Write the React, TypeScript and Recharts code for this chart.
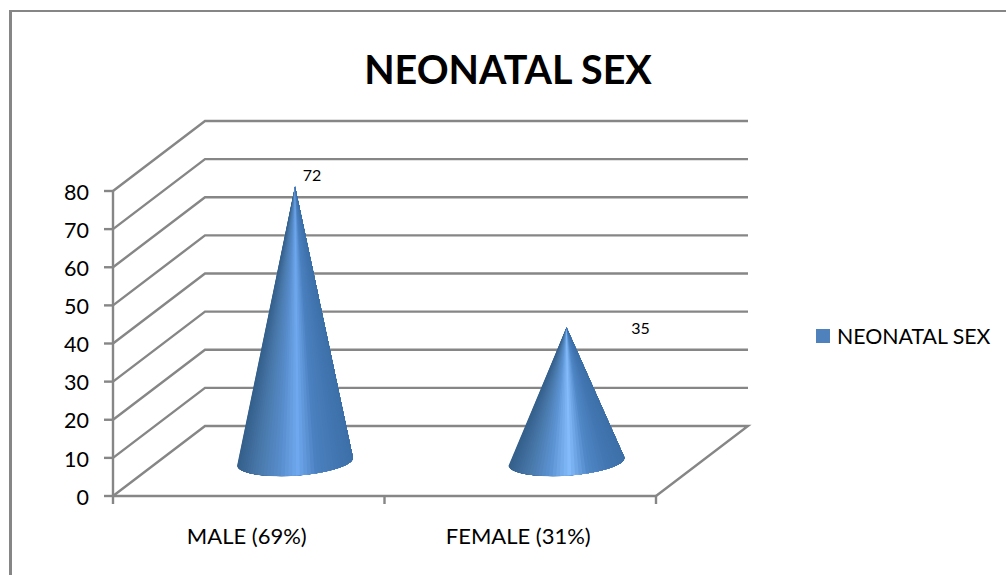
import { Bar, BarChart, CartesianGrid, LabelList, Legend, XAxis, YAxis } from "recharts";

const categories = ["MALE (69%)", "FEMALE (31%)"];
const seriesName = "NEONATAL SEX";
const seriesValues = [72, 35];
const yTicks = [0, 10, 20, 30, 40, 50, 60, 70, 80];

const chartData = categories.map((name, i) => ({ name, value: seriesValues[i] }));

const WIDTH = 1006;
const HEIGHT = 575;
const AXIS_W = 113;
const AXIS_H = 79;
const MARGIN = { top: 191, left: 0, right: 350, bottom: 0 };
const BAND = (WIDTH - AXIS_W - MARGIN.right) / categories.length;

// how far the back wall sits from the front plane
const DEPTH_X = 92;
const DEPTH_Y = 70;

const AXIS_COLOR = "#868686";
const LINE_W = 2.4;
const FONT = "Lato, Carlito, sans-serif";

const SHADES = [
  ["#3d70a8", "#4377b3", "#4b80bf", "#6fa8ee", "#578ccb", "#4a7aac", "#35608c"],
  ["#3d70a8", "#4377b3", "#4f86c5", "#84bcfb", "#5c93d2", "#4a7aac", "#35608c"],
];

function hexToRgb(hex: string) {
  return [1, 3, 5].map((p) => parseInt(hex.slice(p, p + 2), 16));
}

function shadeAt(stops: string[], t: number) {
  const pos = Math.min(Math.max(t, 0), 0.9999) * (stops.length - 1);
  const i = Math.floor(pos);
  const a = hexToRgb(stops[i]);
  const b = hexToRgb(stops[i + 1]);
  const c = a.map((v, k) => Math.round(v + (b[k] - v) * (pos - i)));
  return `rgb(${c[0]},${c[1]},${c[2]})`;
}

// cone standing halfway into the depth of the plot; painted left to right,
// each slice reaching the right rim so no seams show between them
function ConeShape({ x, y, width, height, index }: any) {
  const cx = x + width / 2 + DEPTH_X / 2;
  const cy = y + height - DEPTH_Y / 2 + 0.5;
  const apexY = y - DEPTH_Y / 2;
  const a = 58;
  const b = 14;
  const tiltDeg = -4;
  const tilt = (tiltDeg * Math.PI) / 180;
  const slices = 48;

  const rim = (t: number) => {
    const ex = a * Math.cos(t);
    const ey = b * Math.sin(t);
    return [cx + ex * Math.cos(tilt) - ey * Math.sin(tilt), cy + ex * Math.sin(tilt) + ey * Math.cos(tilt)];
  };

  const end = rim(0);
  const parts = [];
  for (let i = 0; i < slices; i++) {
    const t0 = Math.PI - (Math.PI * i) / slices;
    const p0 = rim(t0);
    parts.push(
      <path
        key={i}
        d={`M${cx},${apexY}L${p0[0]},${p0[1]}A${a},${b} ${tiltDeg} 0 0 ${end[0]},${end[1]}Z`}
        fill={shadeAt(SHADES[index], (1 - Math.cos(t0)) / 2)}
      />
    );
  }
  return <g>{parts}</g>;
}

// each grid line runs up the side wall and then along the back wall
function WallLine({ x1, x2, y1 }: any) {
  const isFloor = Math.abs(y1 - (HEIGHT - AXIS_H)) < 1;
  const backY = y1 - DEPTH_Y;
  const points = [`${x1},${y1}`, `${x1 + DEPTH_X},${backY}`, `${x2 + DEPTH_X},${backY}`];
  if (isFloor) points.push(`${x2},${y1}`);
  return <polyline points={points.join(" ")} fill="none" stroke={AXIS_COLOR} strokeWidth={LINE_W} />;
}

function CategoryTick({ x, y, payload, index }: any) {
  const left = x - BAND / 2;
  return (
    <g>
      <line x1={left} x2={left} y1={y} y2={y + 8} stroke={AXIS_COLOR} strokeWidth={LINE_W} />
      {index === categories.length - 1 && (
        <line x1={left + BAND} x2={left + BAND} y1={y} y2={y + 8} stroke={AXIS_COLOR} strokeWidth={LINE_W} />
      )}
      <text x={x - 2} y={y + 48} textAnchor="middle" fontFamily={FONT} fontSize={22} fill="#000">
        {payload.value}
      </text>
    </g>
  );
}

function ValueLabel({ x, y, width, value, index }: any) {
  const shift = index === 0 ? { dx: 63, dy: -6 } : { dx: 120, dy: 6 };
  return (
    <text
      x={x + width / 2 + shift.dx}
      y={y - DEPTH_Y / 2 + shift.dy}
      textAnchor="middle"
      fontFamily={FONT}
      fontSize={16}
      fill="#000"
    >
      {value}
    </text>
  );
}

function LegendRow({ payload }: any) {
  return (
    <div style={{ display: "flex", alignItems: "center" }}>
      {(payload ?? []).map((item: any) => (
        <span key={item.value} style={{ display: "flex", alignItems: "center", gap: 7 }}>
          <span style={{ width: 14, height: 14, background: item.color }} />
          <span style={{ color: "#000", fontFamily: FONT, fontSize: 21.3, lineHeight: "24px" }}>{item.value}</span>
        </span>
      ))}
    </div>
  );
}

export default function App() {
  return (
    <div style={{ position: "absolute", left: 0, top: 0, width: WIDTH, height: HEIGHT, overflow: "hidden", background: "#fff" }}>
      <div
        style={{
          position: "absolute",
          left: 9,
          top: 10,
          width: WIDTH,
          height: HEIGHT,
          borderLeft: `3px solid ${AXIS_COLOR}`,
          borderTop: `2px solid ${AXIS_COLOR}`,
        }}
      />
      <div
        style={{
          position: "absolute",
          left: 0,
          width: 1016,
          top: 44,
          textAlign: "center",
          fontFamily: FONT,
          fontWeight: 700,
          fontSize: 39.5,
          lineHeight: "50px",
          color: "#000",
        }}
      >
        {seriesName}
      </div>
      <BarChart width={WIDTH} height={HEIGHT} data={chartData} margin={MARGIN} style={{ position: "absolute", left: 0, top: 0 }}>
        <CartesianGrid vertical={false} horizontal={(props: any) => <WallLine key={props.index} {...props} />} />
        <XAxis
          dataKey="name"
          height={AXIS_H}
          axisLine={{ stroke: AXIS_COLOR, strokeWidth: LINE_W }}
          tickLine={false}
          tickSize={0}
          tickMargin={0}
          tick={<CategoryTick />}
          interval={0}
        />
        <YAxis
          width={AXIS_W}
          domain={[0, 80]}
          ticks={yTicks}
          interval={0}
          axisLine={{ stroke: AXIS_COLOR, strokeWidth: LINE_W }}
          tickLine={{ stroke: AXIS_COLOR, strokeWidth: LINE_W }}
          tickSize={9}
          tickMargin={15}
          tick={{ fontFamily: FONT, fontSize: 21.5, fill: "#000", dy: 1 }}
        />
        <Legend
          layout="horizontal"
          verticalAlign="middle"
          content={<LegendRow />}
          wrapperStyle={{ position: "absolute", left: 816, top: 324, width: 190 }}
        />
        <Bar dataKey="value" name={seriesName} fill="#4f81bd" barSize={116} shape={<ConeShape />} isAnimationActive={false}>
          <LabelList dataKey="value" content={<ValueLabel />} />
        </Bar>
      </BarChart>
    </div>
  );
}
